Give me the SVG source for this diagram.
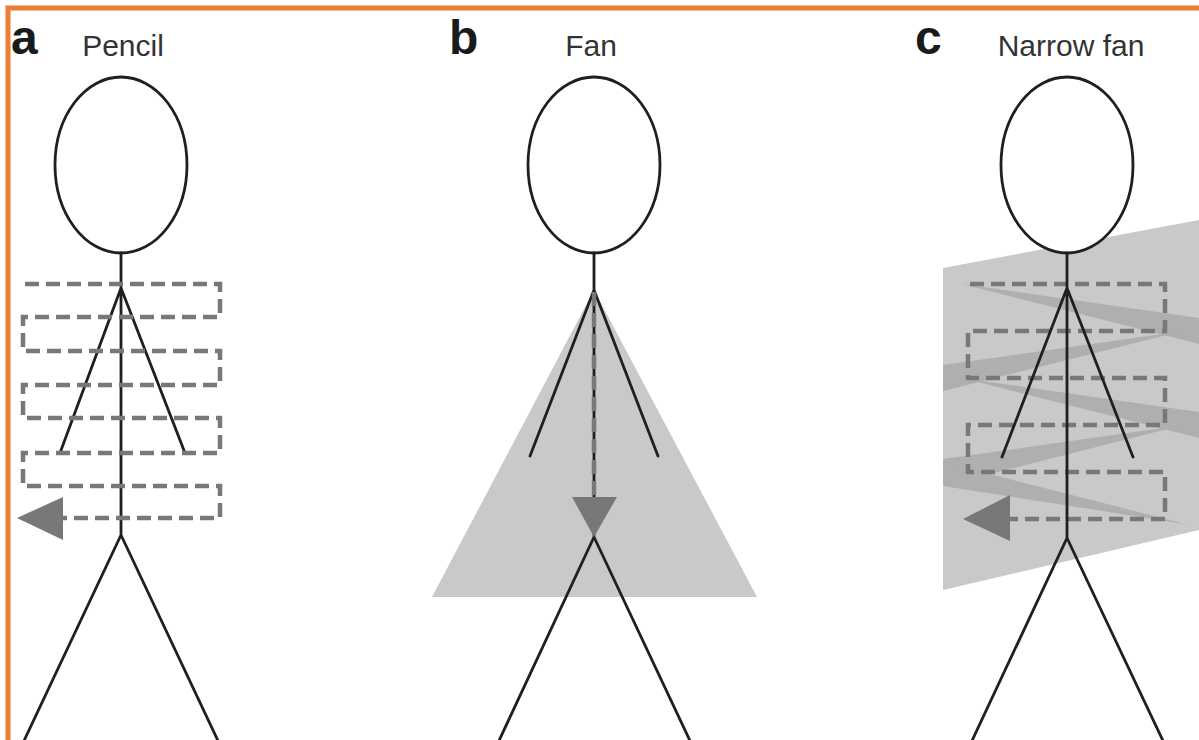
<svg xmlns="http://www.w3.org/2000/svg" width="1199" height="740" viewBox="0 0 1199 740">
  <style>
    .fig { fill: none; stroke: #1f1f1f; stroke-width: 2.8; stroke-linecap: round; }
    .head { fill: #ffffff; stroke: #1f1f1f; stroke-width: 2.8; }
    .scan { fill: none; stroke: #78787b; stroke-width: 4.5; stroke-dasharray: 14 7; }
    .tip { fill: #78787b; }
    .beam { fill: #c9c9cb; }
    .band { fill: #afafb2; }
    .tag { font-family: "Liberation Sans", Arial, sans-serif; font-weight: bold; font-size: 48px; fill: #1a1a1a; }
    .title { font-family: "Liberation Sans", Arial, sans-serif; font-size: 30px; fill: #333333; text-anchor: middle; }
  </style>

  <rect width="1199" height="740" fill="#ffffff"/>
  <!-- frame -->
  <path d="M8 740 V8 H1199" fill="none" stroke="#ec7f34" stroke-width="5"/>

  <!-- panel a: pencil -->
  <g id="panel-a">
    <text class="tag" x="11" y="54">a</text>
    <text class="title" x="123" y="56">Pencil</text>
    <g id="figure-a">
      <ellipse class="head" cx="121" cy="165" rx="66" ry="88"/>
      <path class="fig" d="M121 253 V535 M121 288 L60 453 M121 288 L185 453 M121 535 L22 745 M121 535 L220 745"/>
    </g>
    <path class="scan" d="M25 284 H220 V317 H23 V351 H220 V385 H23 V418 H220 V453 H23 V486 H220 V518 H62"/>
    <polygon class="tip" points="17,518 63,497 63,540"/>
  </g>

  <!-- panel b: fan -->
  <g id="panel-b">
    <text class="tag" x="449" y="54">b</text>
    <text class="title" x="591" y="56">Fan</text>
    <polygon class="beam" points="594,290 432,597 757,597"/>
    <g id="figure-b">
      <ellipse class="head" cx="594" cy="165" rx="66" ry="88"/>
      <path class="fig" d="M594 253 V537 M594 290 L530 456 M594 290 L658 456 M594 537 L497 745 M594 537 L692 745"/>
    </g>
    <path class="scan" d="M594 292 V498"/>
    <polygon class="tip" points="572,497 617,497 594,537"/>
  </g>

  <!-- panel c: narrow fan -->
  <g id="panel-c">
    <text class="tag" x="915" y="54">c</text>
    <text class="title" x="1071" y="56">Narrow fan</text>
    <polygon class="beam" points="943,268 1199,220 1199,530 943,590"/>
    <g id="bands">
      <polygon class="band" points="962,284 1199,318 1199,344"/>
      <polygon class="band" points="1183,331 943,365 943,391"/>
      <polygon class="band" points="962,378 1199,412 1199,438"/>
      <polygon class="band" points="1183,425 943,459 943,486"/>
      <polygon class="band" points="1185,524 943,462 943,486"/>
    </g>
    <path class="scan" d="M970 284 H1165 V331 H968 V378 H1165 V425 H968 V472 H1165 V519 H1009"/>
    <polygon class="tip" points="963,519 1010,495 1010,541"/>
    <g id="figure-c">
      <ellipse class="head" cx="1067" cy="165" rx="66" ry="88"/>
      <path class="fig" d="M1067 253 V538 M1067 288 L1002 457 M1067 288 L1133 457 M1067 538 L970 745 M1067 538 L1165 745"/>
    </g>
  </g>
</svg>
